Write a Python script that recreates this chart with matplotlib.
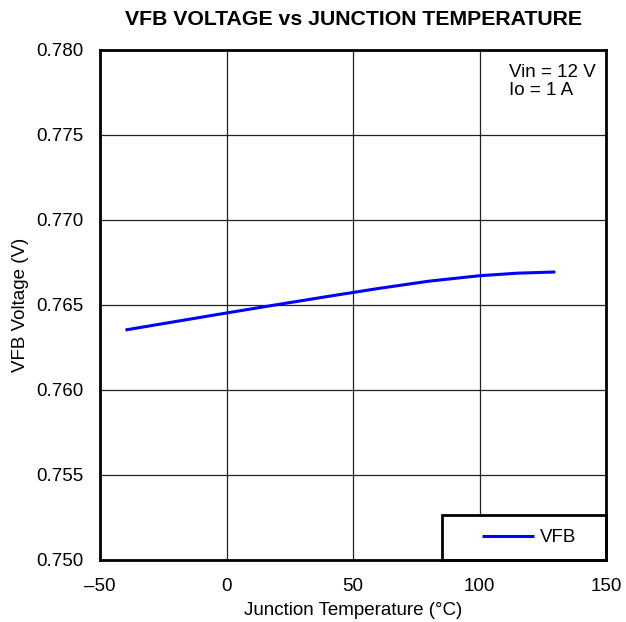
import matplotlib
matplotlib.use("Agg")
import matplotlib.pyplot as plt
from matplotlib.patches import Rectangle

temperature = [-40, -20, 0, 20, 40, 60, 80, 100, 115, 130]
vfb = [0.76353, 0.76403, 0.76453, 0.76502, 0.76550, 0.76597, 0.76640, 0.76672, 0.76687, 0.76694]
xticks = [-50, 0, 50, 100, 150]
xticklabels = ["\u201350", "0", "50", "100", "150"]
yticks = [0.750, 0.755, 0.760, 0.765, 0.770, 0.775, 0.780]

plt.rcParams['font.family'] = ['Liberation Sans', 'DejaVu Sans']
fig = plt.figure(figsize=(6.26, 6.22), dpi=100)
ax = fig.add_axes([0.16, 0.0997, 0.808, 0.82])
ax.plot(temperature, vfb, color='#0000ff', lw=2.2, label='VFB', solid_capstyle='butt',
        solid_joinstyle='round')
ax.set_xlim(-50, 150)
ax.set_ylim(0.750, 0.780)
ax.set_xticks(xticks)
ax.set_xticklabels(xticklabels)
ax.set_yticks(yticks)
ax.set_yticklabels([f"{v:.3f}" for v in yticks])
ax.grid(True, color='#222222', lw=0.9)
ax.tick_params(axis='y', length=0, labelsize=13.5, pad=12)
ax.tick_params(axis='x', length=0, labelsize=13.5, pad=13)
for s in ax.spines.values():
    s.set_linewidth(2)
    s.set_zorder(5)
ax.set_xlabel("Junction Temperature (\u00b0C)", fontsize=13.5, labelpad=5)
ax.set_ylabel("VFB Voltage (V)", fontsize=13.5, labelpad=5)
ax.set_title("VFB VOLTAGE vs JUNCTION TEMPERATURE", fontsize=15.3, fontweight='bold', pad=18)
ax.text(0.808, 0.972, "Vin = 12 V\nIo = 1 A", transform=ax.transAxes, va='top', ha='left',
        fontsize=13.5, linespacing=1.05)
ax.add_patch(Rectangle((0.676, 0.0), 0.324, 0.088, transform=ax.transAxes, facecolor='white',
                       edgecolor='black', lw=2, zorder=4, clip_on=False))
leg = ax.legend(loc='center', bbox_to_anchor=(0.848, 0.044), frameon=False, handlelength=2.8,
                borderpad=0, borderaxespad=0, fontsize=13.5, handletextpad=0.3)
leg.set_zorder(6)
fig.savefig("out.png", dpi=100)
